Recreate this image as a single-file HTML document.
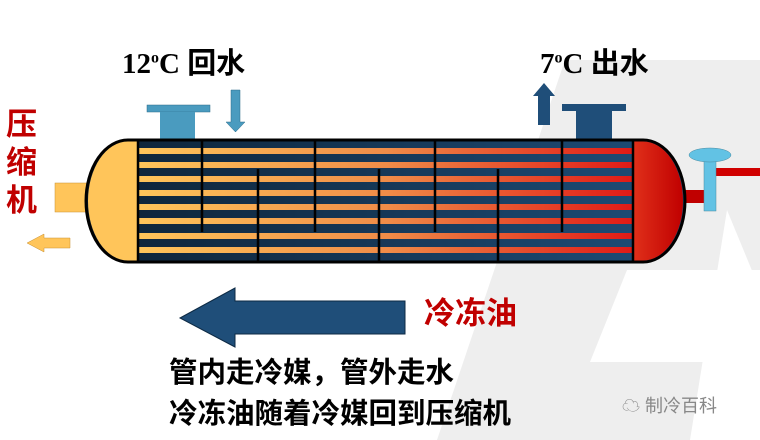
<!DOCTYPE html>
<html><head><meta charset="utf-8"><style>
body{margin:0;width:760px;height:440px;overflow:hidden;background:#fff;position:relative;font-family:"Liberation Sans","Noto Sans CJK SC",sans-serif}
.t{position:absolute;white-space:nowrap;font-weight:bold}
</style></head><body>
<svg width="760" height="440" style="position:absolute;left:0;top:0">
<defs>
<linearGradient id="tg" x1="0" x2="1"><stop offset="0" stop-color="#ffc55a"/><stop offset="0.5" stop-color="#ef8c48"/><stop offset="1" stop-color="#e01a16"/></linearGradient>
<linearGradient id="bg" x1="0" x2="1"><stop offset="0" stop-color="#0d2236"/><stop offset="1" stop-color="#1f4e79"/></linearGradient>
<linearGradient id="rh" x1="0" x2="1"><stop offset="0" stop-color="#e0301a"/><stop offset="1" stop-color="#c00000"/></linearGradient>
</defs>
<polygon points="565,60 760,60 760,440 437,440" fill="#eeeeee"/>
<polygon points="627,270 760,270 760,362 590,362" fill="#fff"/>
<polygon points="727,210 760,290 760,440 690,440" fill="#fff"/>
<rect x="147" y="105" width="63" height="7" fill="#4a9bbf" stroke="#2d6a88" stroke-width="0.5"/>
<rect x="160" y="112" width="35" height="29" fill="#4a9bbf"/>
<polygon points="231,90 240,90 240,122 245,122 235.5,132 226,122 231,122" fill="#4a9bbf" stroke="#2d6a88" stroke-width="0.5"/>
<rect x="562" y="104" width="64" height="7" fill="#1f4e79"/>
<rect x="576" y="111" width="36" height="30" fill="#1f4e79"/>
<polygon points="538,125 550,125 550,96 555,96 544,83 533,96 538,96" fill="#1f4e79"/>
<rect x="55" y="183" width="35" height="29" fill="#ffc55a" stroke="#c89030" stroke-width="0.5"/>
<polygon points="70,238 44,238 44,234 27,243 44,252 44,248 70,248" fill="#ffc55a" stroke="#c89030" stroke-width="0.5"/>
<rect x="683" y="190" width="22" height="13" fill="#c00000"/>
<rect x="716" y="168" width="44" height="8" fill="#d00000"/>
<rect x="704" y="160" width="12" height="51" fill="#62c2e4" stroke="#4a8aa0" stroke-width="0.5"/>
<ellipse cx="710" cy="155" rx="21" ry="7" fill="#62c2e4" stroke="#4a8aa0" stroke-width="0.5"/>
<path d="M128,140 H643 A42,61 0 0 1 643,262 H128 A42,61 0 0 1 128,140 Z" fill="url(#bg)" stroke="#000" stroke-width="3"/>
<path d="M138,141.5 H128 A40,59.5 0 0 0 128,260.5 H138 Z" fill="#ffc55a"/>
<path d="M633,141.5 H643 A40,59.5 0 0 1 643,260.5 H633 Z" fill="url(#rh)"/>
<g fill="url(#tg)">
<rect x="139" y="148" width="494" height="6"/><rect x="139" y="162" width="494" height="6"/>
<rect x="139" y="176" width="494" height="6"/><rect x="139" y="190" width="494" height="6"/>
<rect x="139" y="204" width="494" height="6"/><rect x="139" y="218" width="494" height="6"/>
<rect x="139" y="233" width="494" height="6"/><rect x="139" y="247" width="494" height="6"/>
</g>
<g stroke="#000" stroke-width="2.5">
<line x1="138" y1="141" x2="138" y2="261"/><line x1="633" y1="141" x2="633" y2="261"/>
<line x1="202" y1="141" x2="202" y2="232"/><line x1="315" y1="141" x2="315" y2="232"/>
<line x1="435" y1="141" x2="435" y2="232"/><line x1="562" y1="141" x2="562" y2="232"/>
<line x1="258" y1="169" x2="258" y2="261"/><line x1="379" y1="169" x2="379" y2="261"/>
<line x1="498" y1="169" x2="498" y2="261"/>
</g>
<polygon points="180,318 235,288 235,301 405,301 405,334 235,334 235,347" fill="#1f4e79" stroke="#0d2a44" stroke-width="1"/>
</svg>
<div class="t" style="left:122px;top:40px;font-size:29px;font-family:'Liberation Serif','Noto Sans CJK SC',serif">12<sup style="font-size:16px">o</sup>C <span style="font-family:'Noto Sans CJK SC',sans-serif;font-size:29px">回水</span></div>
<div class="t" style="left:540px;top:40px;font-size:29px;font-family:'Liberation Serif','Noto Sans CJK SC',serif">7<sup style="font-size:16px">o</sup>C <span style="font-family:'Noto Sans CJK SC',sans-serif;font-size:29px">出水</span></div>
<div class="t" style="left:6px;top:106px;font-size:31px;line-height:38px;color:#c00000;width:32px;white-space:normal">压缩机</div>
<div class="t" style="left:424px;top:295px;font-size:31px;line-height:38px;color:#c00000">冷冻油</div>
<div class="t" style="left:169px;top:353px;font-size:28.5px;line-height:40px">管内走冷媒，管外走水</div>
<div class="t" style="left:169px;top:394px;font-size:28.5px;line-height:40px">冷冻油随着冷媒回到压缩机</div>
<div class="t" style="left:622px;top:394px;font-size:18px;line-height:24px;color:#888;font-weight:normal">☁ 制冷百科</div>
</body></html>
